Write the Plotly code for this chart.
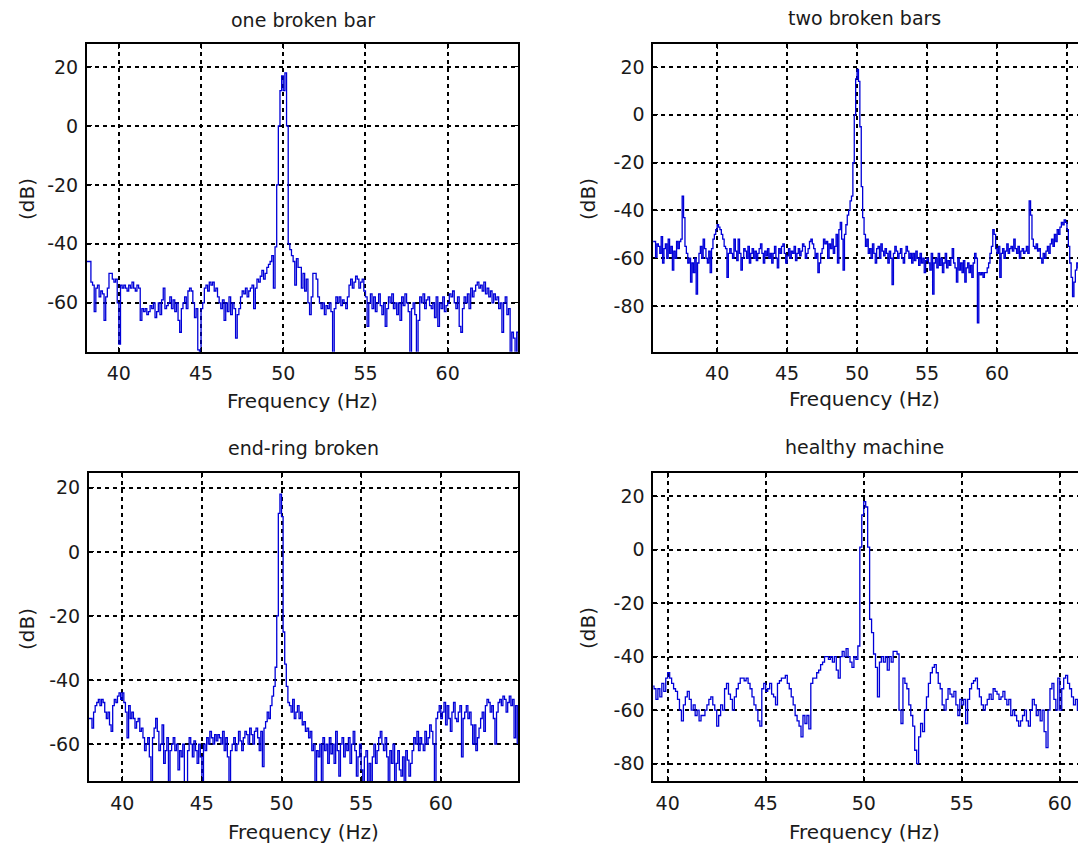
import numpy as np
import plotly.graph_objects as go

# ---------------- data (dB spectra, 0.1 Hz bins) ----------------
FREQ_STEP = 0.1

one_bar_start = 38.0
one_bar_db = [
    -46, -46, -46, -53, -54, -63, -55, -54, -58, -56,
    -57, -66, -58, -55, -50, -50, -52, -53, -52, -60,
    -74, -54, -55, -54, -55, -56, -54, -55, -53, -55,
    -56, -54, -55, -66, -62, -63, -62, -64, -63, -61,
    -62, -60, -65, -63, -60, -64, -59, -55, -62, -61,
    -60, -58, -62, -59, -63, -60, -66, -70, -62, -60,
    -58, -62, -56, -55, -56, -60, -65, -62, -76, -78,
    -62, -60, -55, -54, -56, -53, -54, -53, -56, -55,
    -58, -60, -62, -59, -66, -60, -63, -58, -64, -60,
    -62, -72, -64, -62, -58, -56, -57, -55, -58, -56,
    -55, -54, -62, -55, -52, -53, -51, -49, -52, -50,
    -48, -47, -46, -44, -55, -41, -20, 0, 12, 17,
    12, 18, 0, -40, -42, -44, -46, -54, -45, -48,
    -48, -55, -50, -56, -52, -60, -64, -58, -50, -50,
    -52, -58, -60, -62, -60, -64, -61, -62, -60, -63,
    -78, -62, -58, -60, -58, -61, -59, -60, -62, -58,
    -54, -52, -55, -53, -51, -52, -55, -53, -52, -56,
    -58, -68, -60, -57, -62, -58, -63, -60, -57, -61,
    -64, -60, -68, -62, -58, -60, -57, -62, -60, -64,
    -60, -66, -58, -61, -57, -60, -63, -78, -62, -60,
    -64, -78, -66, -58, -60, -57, -62, -59, -58, -61,
    -62, -60, -65, -58, -68, -60, -62, -58, -63, -61,
    -60, -57, -58, -56, -60, -62, -58, -68, -70, -62,
    -58, -60, -57, -62, -55, -58, -56, -54, -53, -55,
    -54, -56, -53, -57, -55, -58, -56, -60, -57, -59,
    -58, -62, -60, -70, -60, -58, -64, -62, -78, -70,
    -72, -78, -70, -78, -78,
]

two_bars_start = 35.4
two_bars_db = [
    -53, -53, -60, -54, -55, -58,
    -51, -62, -56, -54, -60, -52, -58, -55, -65, -57,
    -60, -53, -56, -53, -52, -34, -43, -55, -58, -62,
    -60, -70, -62, -66, -60, -75, -62, -58, -55, -60,
    -52, -56, -60, -62, -57, -66, -56, -52, -50, -48,
    -46, -47, -48, -50, -52, -55, -56, -68, -58, -56,
    -58, -60, -52, -57, -61, -52, -58, -65, -60, -56,
    -57, -60, -55, -62, -58, -56, -60, -57, -61, -58,
    -56, -54, -58, -62, -57, -59, -56, -60, -58, -62,
    -58, -55, -60, -64, -56, -58, -55, -54, -58, -62,
    -59, -56, -60, -57, -58, -55, -61, -58, -56, -59,
    -57, -54, -55, -60, -58, -56, -53, -52, -54, -56,
    -60, -58, -66, -62, -58, -56, -52, -54, -53, -60,
    -54, -56, -52, -58, -55, -50, -62, -48, -45, -52,
    -65, -50, -46, -42, -40, -36, -34, -20, 0, 15,
    19, 14, -5, -30, -43, -50, -55, -52, -58, -56,
    -60, -54, -58, -62, -56, -55, -60, -54, -57, -59,
    -56, -58, -62, -57, -60, -71, -58, -55, -57, -60,
    -58, -56, -60, -62, -58, -55, -57, -60, -58, -62,
    -58, -61, -57, -60, -63, -58, -62, -60, -66, -61,
    -60, -62, -65, -58, -75, -62, -60, -64, -58, -63,
    -60, -66, -62, -58, -64, -61, -63, -60, -56, -62,
    -64, -70, -60, -65, -62, -66, -61, -70, -64, -62,
    -66, -63, -68, -62, -58, -60, -87, -66, -67, -66,
    -68, -66, -66, -64, -62, -58, -55, -48, -50, -56,
    -58, -55, -68, -58, -56, -60, -57, -54, -58, -56,
    -55, -57, -52, -56, -58, -55, -60, -57, -56, -58,
    -57, -55, -58, -36, -42, -52, -55, -56, -54, -57,
    -56, -60, -62, -58, -60, -57, -55, -58, -54, -52,
    -55, -50, -53, -48, -50, -47, -45, -46, -44, -45,
    -48, -55, -62, -68, -76, -70, -65, -62, -64, -66,
]

end_ring_start = 37.9
end_ring_db = [
    -52,
    -52, -55, -50, -48, -47, -46, -48, -46, -47, -50,
    -52, -50, -54, -56, -48, -46, -47, -45, -44, -46,
    -44, -47, -50, -58, -48, -52, -50, -52, -55, -53,
    -52, -56, -55, -58, -62, -60, -58, -64, -72, -58,
    -55, -52, -56, -62, -60, -54, -66, -62, -58, -72,
    -62, -60, -58, -62, -60, -68, -62, -64, -60, -72,
    -72, -62, -58, -60, -64, -59, -62, -66, -60, -64,
    -72, -60, -62, -58, -60, -56, -58, -60, -57, -59,
    -57, -58, -60, -56, -62, -58, -64, -72, -62, -60,
    -58, -62, -60, -56, -59, -62, -58, -56, -57, -60,
    -55, -57, -60, -56, -55, -58, -62, -56, -67, -55,
    -53, -50, -52, -48, -45, -42, -36, -20, 12, 18,
    11, -25, -35, -42, -47, -48, -50, -46, -52, -50,
    -48, -52, -50, -54, -53, -56, -55, -58, -56, -62,
    -60, -72, -62, -64, -60, -72, -58, -62, -60, -66,
    -58, -63, -60, -66, -56, -62, -70, -60, -58, -64,
    -60, -62, -58, -66, -60, -56, -62, -70, -64, -60,
    -68, -72, -64, -62, -72, -66, -72, -64, -60, -66,
    -62, -58, -56, -60, -62, -58, -64, -72, -62, -66,
    -60, -72, -66, -62, -68, -70, -64, -72, -62, -65,
    -70, -66, -62, -58, -60, -56, -62, -58, -60, -62,
    -56, -60, -58, -54, -56, -60, -72, -52, -50, -48,
    -52, -50, -47, -54, -48, -52, -56, -50, -47, -52,
    -53, -50, -48, -64, -52, -50, -48, -52, -50, -54,
    -60, -54, -62, -58, -55, -52, -50, -56, -48, -46,
    -47, -50, -48, -52, -60, -50, -47, -46, -48, -45,
    -46, -50, -47, -45, -48, -46, -58, -48, -60, -58,
]

healthy_start = 39.2
healthy_db = [
    -51, -52, -56, -52, -55, -50, -53, -48,
    -46, -48, -50, -52, -53, -56, -60, -64, -58, -55,
    -53, -56, -60, -58, -62, -60, -64, -62, -62, -60,
    -58, -56, -55, -58, -60, -66, -62, -58, -60, -52,
    -50, -54, -56, -60, -55, -52, -50, -48, -48, -49,
    -48, -50, -52, -55, -58, -60, -64, -66, -52, -50,
    -53, -52, -50, -54, -55, -58, -50, -49, -48, -48,
    -47, -50, -52, -55, -58, -62, -64, -66, -70, -62,
    -65, -62, -67, -50, -48, -48, -46, -45, -43, -42,
    -40, -40, -41, -40, -42, -40, -45, -48, -40, -38,
    -40, -37, -40, -42, -44, -40, -41, -36, 1, 13,
    18, 16, 1, -26, -31, -39, -44, -55, -42, -40,
    -42, -40, -45, -40, -42, -38, -38, -39, -60, -65,
    -48, -50, -52, -58, -62, -66, -75, -80, -70, -65,
    -68, -60, -55, -50, -46, -44, -43, -46, -50, -52,
    -58, -60, -56, -52, -54, -55, -53, -58, -62, -56,
    -58, -56, -65, -56, -52, -50, -49, -48, -52, -55,
    -58, -60, -58, -56, -54, -56, -52, -53, -54, -56,
    -55, -53, -56, -58, -56, -62, -60, -62, -64, -66,
    -64, -62, -60, -64, -66, -60, -56, -58, -62, -60,
    -64, -60, -68, -74, -60, -52, -50, -56, -60, -48,
    -60, -52, -48, -47, -50, -52, -55, -58, -56, -60,
    -60,
]

panel_titles = ["one broken bar", "two broken bars", "end-ring broken", "healthy machine"]
x_title = "Frequency (Hz)"
y_title = "(dB)"

x_ticks_tl = [40, 45, 50, 55, 60]
x_ticks_tr = [40, 45, 50, 55, 60, 65]
x_ticks_bl = [40, 45, 50, 55, 60]
x_ticks_br = [40, 45, 50, 55, 60]
y_ticks_tl = [20, 0, -20, -40, -60]
y_ticks_tr = [20, 0, -20, -40, -60, -80]
y_ticks_bl = [20, 0, -20, -40, -60]
y_ticks_br = [20, 0, -20, -40, -60, -80]

# ---------------- figure ----------------
W, H = 1078, 845


def freqs(start, vals):
    return np.round(start + FREQ_STEP * np.arange(len(vals)), 2)


def px(x):
    return x / W


def py(y):
    return 1 - y / H


panels = [
    (one_bar_start, one_bar_db, (86.8, 518.2), (44.3, 351.7), [38.05, 64.29], [-76.6, 27.7], x_ticks_tl, y_ticks_tl, False),
    (two_bars_start, two_bars_db, (653.2, 1078), (44.3, 351.7), [35.43, 65.79], [-99.1, 29.5], x_ticks_tr, y_ticks_tr, True),
    (end_ring_start, end_ring_db, (88.8, 518.2), (472.7, 781.0), [37.9, 64.86], [-71.5, 24.7], x_ticks_bl, y_ticks_bl, False),
    (healthy_start, healthy_db, (653.2, 1078), (473.3, 781.0), [39.26, 60.93], [-86.5, 28.6], x_ticks_br, y_ticks_br, True),
]

tick_font = dict(family="DejaVu Sans", size=19, color="#1a1a1a")
fig = go.Figure()
layout = dict(
    width=W, height=H,
    margin=dict(l=0, r=0, t=0, b=0),
    paper_bgcolor="white", plot_bgcolor="white",
    showlegend=False,
)

annotations = []
for i, (start, vals, xd, yd, xr, yr, xt, yt, cut) in enumerate(panels):
    n = i + 1
    xa = "x" if n == 1 else f"x{n}"
    ya = "y" if n == 1 else f"y{n}"
    fig.add_trace(go.Scatter(
        x=freqs(start, vals), y=vals, mode="lines",
        line=dict(color="#0000d8", width=1.3, shape="hv"),
        xaxis=xa, yaxis=ya, hoverinfo="skip",
    ))
    common = dict(
        showline=True, linecolor="black", linewidth=1.6,
        ticks="inside", ticklen=5, tickcolor="black",
        showgrid=True, gridcolor="black", gridwidth=1.6, griddash="4px,4px",
        zeroline=False, tickfont=tick_font,
    )
    layout["xaxis" if n == 1 else f"xaxis{n}"] = dict(
        domain=[px(xd[0]), px(xd[1])], range=xr, anchor=ya,
        tickvals=xt, ticktext=[str(v) for v in xt], mirror="ticks",
        ticklabelstandoff=4, **common)
    layout["yaxis" if n == 1 else f"yaxis{n}"] = dict(
        domain=[py(yd[1]), py(yd[0])], range=yr, anchor=xa,
        tickvals=yt, ticktext=[str(v) for v in yt],
        mirror=False if cut else "ticks", ticklabelstandoff=3, **common)

title_pos = [(302.5, 20), (864.6, 18.5), (303.5, 448), (864.6, 447)]
xlab_pos = [(302.5, 401.5), (864.6, 399), (303.5, 831.5), (864.6, 831.5)]
ylab_pos = [(27, 199), (588, 199), (27, 629), (588, 628)]
for i in range(4):
    annotations.append(dict(text=panel_titles[i], x=px(title_pos[i][0]), y=py(title_pos[i][1]),
                            xref="paper", yref="paper", showarrow=False, xanchor="center", yanchor="middle",
                            font=dict(family="DejaVu Sans", size=19, color="#1a1a1a")))
    annotations.append(dict(text=x_title, x=px(xlab_pos[i][0]), y=py(xlab_pos[i][1]),
                            xref="paper", yref="paper", showarrow=False, xanchor="center", yanchor="middle",
                            font=dict(family="DejaVu Sans", size=20, color="#1a1a1a")))
    annotations.append(dict(text=y_title, x=px(ylab_pos[i][0]), y=py(ylab_pos[i][1]),
                            xref="paper", yref="paper", showarrow=False, xanchor="center", yanchor="middle",
                            textangle=-90,
                            font=dict(family="DejaVu Sans", size=20, color="#1a1a1a")))
layout["annotations"] = annotations
fig.update_layout(**layout)
fig.write_html("out.html")
